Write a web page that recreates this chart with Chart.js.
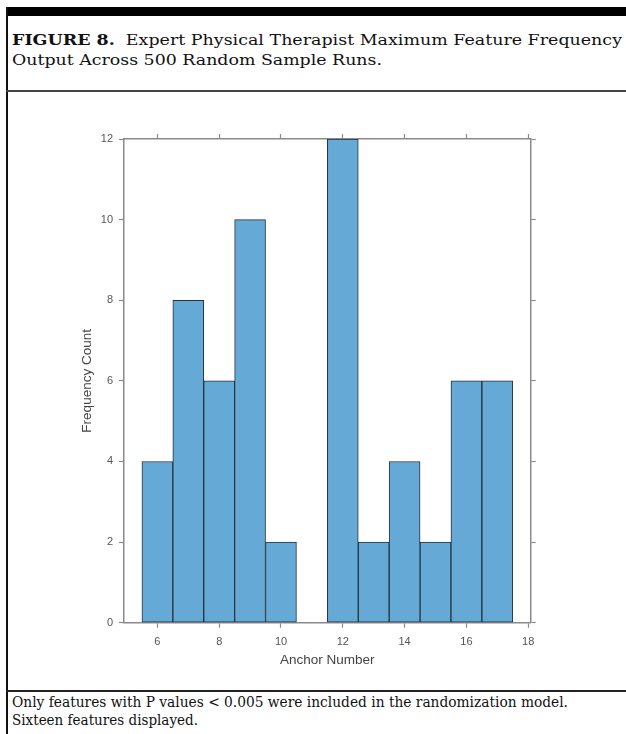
<!DOCTYPE html>
<html><head><meta charset="utf-8">
<script src="https://cdn.jsdelivr.net/npm/chart.js@4"></script>
<style>
html,body{margin:0;padding:0;background:#fff;}
#page{position:relative;width:626px;height:734px;overflow:hidden;background:#fff;}
.abs{position:absolute;}
.serif{font-family:"DejaVu Serif","Liberation Serif",serif;color:#111;white-space:nowrap;line-height:1;transform-origin:0 0;display:inline-block;}
</style></head><body>
<div id="page">
  <div class="abs" style="left:6px;top:7px;width:620px;height:9px;background:#000"></div>
  <div class="abs" style="left:6px;top:7px;width:2px;height:727px;background:#111"></div>
  <div class="abs" style="left:6px;top:90px;width:620px;height:2px;background:#444"></div>
  <div class="abs" style="left:6px;top:689.5px;width:620px;height:2px;background:#222"></div>
  <span id="t1" class="abs serif" style="left:12px;top:33.3px;font-size:15px"><b>FIGURE 8.</b>&nbsp; Expert Physical Therapist Maximum Feature Frequency</span>
  <span id="t2" class="abs serif" style="left:12px;top:53.3px;font-size:15px">Output Across 500 Random Sample Runs.</span>
  <span id="c1" class="abs serif" style="left:12px;top:695.2px;font-size:14px">Only features with P values &lt; 0.005 were included in the randomization model.</span>
  <span id="c2" class="abs serif" style="left:12px;top:713.2px;font-size:14px">Sixteen features displayed.</span>
  <canvas id="c" width="626" height="734" class="abs" style="left:0;top:0"></canvas>
</div>
<script>
// ---- data ----
const anchorNumbers = [6, 7, 8, 9, 10, 12, 13, 14, 15, 16, 17];
const frequencyCounts = [4, 8, 6, 10, 2, 12, 2, 4, 2, 6, 6];
const xTickValues = [6, 8, 10, 12, 14, 16, 18];
const yTickValues = [0, 2, 4, 6, 8, 10, 12];
const xAxisLabel = 'Anchor Number';
const yAxisLabel = 'Frequency Count';

// fit text lines to the reference widths
function fitWidth(id, target) {
  const el = document.getElementById(id);
  const w = el.getBoundingClientRect().width;
  el.style.transform = 'scaleX(' + (target / w) + ')';
}
fitWidth('t1', 610);
fitWidth('t2', 370);
fitWidth('c1', 556);
fitWidth('c2', 186);

const axisColor = '#8a8a8a';
const tickFont = {family: '"Liberation Sans", Arial, sans-serif', size: 11};
const titleFont = {family: '"Liberation Sans", Arial, sans-serif', size: 13.5};
const setTicks = vals => s => { s.ticks = vals.map(v => ({value: v})); };
const gridOpts = {display: true, drawOnChartArea: false, drawTicks: true, tickLength: 5,
  color: axisColor, tickColor: axisColor, lineWidth: 1, tickWidth: 1.2, offset: false};
const borderOpts = {display: true, color: axisColor, width: 1.5};

new Chart(document.getElementById('c'), {
  type: 'bar',
  data: {
    datasets: [{
      data: anchorNumbers.map((a, i) => ({x: a, y: frequencyCounts[i]})),
      backgroundColor: '#65a9d7',
      borderColor: '#26323d',
      borderWidth: 1,
      borderSkipped: false,
      barPercentage: 1,
      categoryPercentage: 1,
      xAxisID: 'x', yAxisID: 'y'
    }]
  },
  options: {
    responsive: false, animation: false, devicePixelRatio: 1,
    layout: {padding: {left: 0, top: 129, right: 85.3, bottom: 61.3}},
    plugins: {legend: {display: false}, tooltip: {enabled: false}},
    scales: {
      x: {type: 'linear', position: 'bottom', min: 4.92, max: 18.08, offset: false,
        grid: gridOpts, border: borderOpts,
        ticks: {font: tickFont, color: '#555', padding: 8, maxRotation: 0, autoSkip: false},
        afterBuildTicks: setTicks(xTickValues),
        afterFit: s => { s.height = 50; },
        title: {display: true, text: xAxisLabel, font: titleFont, color: '#444', padding: {top: 0, bottom: 4.6}}
      },
      x2: {type: 'linear', position: 'top', min: 4.92, max: 18.08, offset: false,
        grid: gridOpts, border: borderOpts,
        ticks: {display: false},
        afterBuildTicks: setTicks(xTickValues),
        afterFit: s => { s.height = 10; }
      },
      y: {type: 'linear', position: 'left', min: 0, max: 12,
        grid: gridOpts, border: borderOpts,
        ticks: {font: tickFont, color: '#555', padding: 6},
        afterBuildTicks: setTicks(yTickValues),
        afterFit: s => { s.width = 124; },
        title: {display: true, text: yAxisLabel, font: titleFont, color: '#444', padding: {top: 79.4, bottom: 0}}
      },
      y2: {type: 'linear', position: 'right', min: 0, max: 12,
        grid: gridOpts, border: borderOpts,
        ticks: {display: false},
        afterBuildTicks: setTicks(yTickValues),
        afterFit: s => { s.width = 10; }
      }
    }
  }
});
</script>
</body></html>
